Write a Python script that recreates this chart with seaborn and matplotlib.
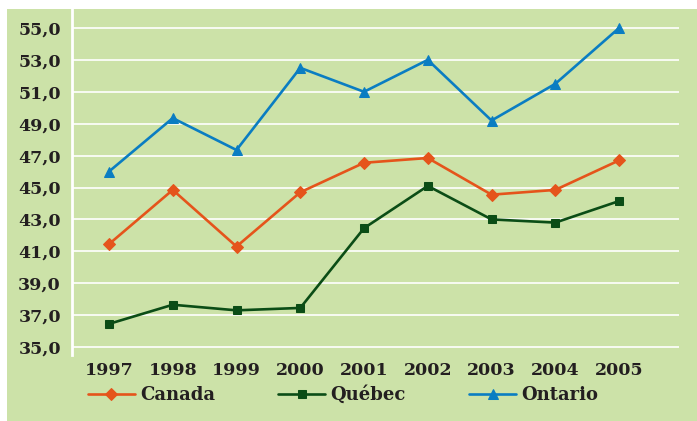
import matplotlib
matplotlib.use('Agg')
import matplotlib.pyplot as plt
import matplotlib.patches as patches
import pandas as pd
import seaborn as sns

# Data
years = [1997, 1998, 1999, 2000, 2001, 2002, 2003, 2004, 2005]
canada = [41.45, 44.85, 41.3, 44.7, 46.55, 46.85, 44.55, 44.85, 46.7]
quebec = [36.45, 37.65, 37.3, 37.45, 42.45, 45.1, 43.0, 42.8, 44.15]
ontario = [46.0, 49.35, 47.35, 52.5, 51.0, 53.0, 49.2, 51.5, 55.0]
yticks = [35, 37, 39, 41, 43, 45, 47, 49, 51, 53, 55]

BG = '#cce2a8'
TXT = '#231f20'
series = [
    ('Canada', canada, '#e5541b', 'D', 6),
    ('Québec', quebec, '#0b4d16', 's', 6),
    ('Ontario', ontario, '#0a7dc2', '^', 7),
]

sns.set_theme(style='white')
plt.rcParams['font.family'] = ['DejaVu Serif']
plt.rcParams['font.weight'] = 'bold'

fig = plt.figure(figsize=(6.97, 4.21), dpi=100)
fig.patches.append(patches.Rectangle((7 / 697, 0), 690 / 697, 412 / 421,
                                     transform=fig.transFigure, facecolor=BG,
                                     edgecolor='none', zorder=-10))
ax = fig.add_axes([72 / 697, 1 - 355 / 421, (679 - 72) / 697, (355 - 9) / 421])
ax.set_facecolor(BG)

for name, vals, color, marker, ms in series:
    df = pd.DataFrame({'year': years, 'value': vals})
    sns.lineplot(data=df, x='year', y='value', ax=ax, color=color, marker=marker,
                 markersize=ms, markeredgecolor=color, linewidth=1.9, label=name)

ax.set_xlim(1996.42, 2005.94)
ax.set_ylim(34.5, 56.19)
ax.set_xticks(years)
ax.set_xticklabels([str(y) for y in years])
ax.set_yticks(yticks)
ax.set_yticklabels([f'{t},0' for t in yticks])
ax.yaxis.grid(True, color='white', linewidth=1.2)
ax.set_axisbelow(True)
ax.set_xlabel('')
ax.set_ylabel('')
for s in ['top', 'right', 'bottom']:
    ax.spines[s].set_visible(False)
ax.spines['left'].set_color('white')
ax.spines['left'].set_linewidth(2)
ax.tick_params(axis='both', length=0, labelsize=12.5, labelcolor=TXT)
ax.tick_params(axis='y', pad=8)
ax.tick_params(axis='x', pad=5)
for lab in ax.get_xticklabels() + ax.get_yticklabels():
    lab.set_fontweight('bold')

handles, labels = ax.get_legend_handles_labels()
ax.legend(handles, labels, loc='center', bbox_to_anchor=(343 / 697, 1 - 395 / 421),
          bbox_transform=fig.transFigure, ncol=3, frameon=False,
          prop={'size': 13, 'weight': 'bold'}, handlelength=2.6,
          columnspacing=3.5, handletextpad=0.3, labelcolor=TXT)

fig.savefig('out.png', dpi=100, facecolor='white')
